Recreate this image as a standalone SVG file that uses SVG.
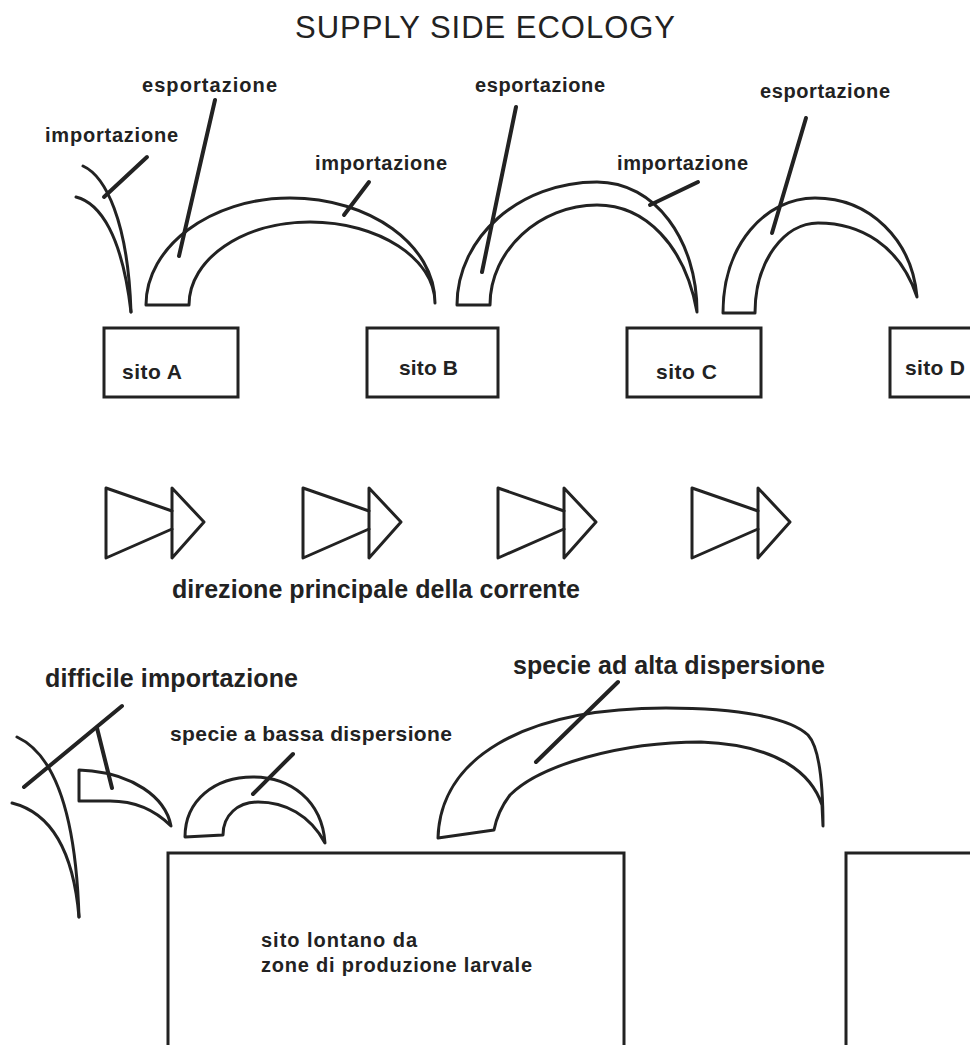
<svg xmlns="http://www.w3.org/2000/svg" width="970" height="1045" viewBox="0 0 970 1045">
<style>
.t{font-family:"Liberation Sans",Arial,sans-serif;font-weight:bold;fill:#222;font-size:20px}
.s{font-size:21px}
.big{font-size:25px}
.title{font-family:"Liberation Sans",Arial,sans-serif;font-weight:normal;fill:#222;font-size:31px}
.ln{fill:none;stroke:#222;stroke-width:3;stroke-linejoin:round;stroke-linecap:round}
.ld{fill:none;stroke:#222;stroke-width:4;stroke-linecap:round}
.box{fill:none;stroke:#222;stroke-width:3}
</style>
<defs>
<g id="arrow">
<polyline class="ln" points="66,23 0,0 0,70 66,41"/>
<polygon class="ln" points="66,0 98,34 66,70"/>
</g>
</defs>
<rect width="970" height="1045" fill="#fff"/>
<text class="title" x="295" y="38" textLength="380" lengthAdjust="spacing">SUPPLY SIDE ECOLOGY</text>

<g id="siteA"><rect class="box" x="104" y="328" width="134" height="69"/><text class="t s" x="122" y="379" textLength="60" lengthAdjust="spacing">sito A</text></g>
<g id="siteB"><rect class="box" x="367" y="328" width="131" height="69"/><text class="t s" x="399" y="375" textLength="59" lengthAdjust="spacing">sito B</text></g>
<g id="siteC"><rect class="box" x="627" y="328" width="134" height="69"/><text class="t s" x="656" y="379" textLength="61" lengthAdjust="spacing">sito C</text></g>
<g id="siteD"><rect class="box" x="890" y="328" width="100" height="69"/><text class="t s" x="905" y="375" textLength="60" lengthAdjust="spacing">sito D</text></g>

<g id="farSite"><rect class="box" x="168" y="853" width="456" height="220"/><text class="t" x="261" y="947" textLength="156" lengthAdjust="spacing">sito lontano da</text><text class="t" x="261" y="972" textLength="271" lengthAdjust="spacing">zone di produzione larvale</text></g>
<g id="rightSite"><rect class="box" x="846" y="853" width="150" height="220"/></g>

<g id="labels">
<text class="t" x="142" y="92" textLength="135" lengthAdjust="spacing">esportazione</text>
<text class="t" x="45" y="142" textLength="133" lengthAdjust="spacing">importazione</text>
<text class="t" x="315" y="170" textLength="132" lengthAdjust="spacing">importazione</text>
<text class="t" x="475" y="92" textLength="130" lengthAdjust="spacing">esportazione</text>
<text class="t" x="617" y="170" textLength="131" lengthAdjust="spacing">importazione</text>
<text class="t" x="760" y="98" textLength="130" lengthAdjust="spacing">esportazione</text>
<text class="t big" x="172" y="598" textLength="408" lengthAdjust="spacing">direzione principale della corrente</text>
<text class="t big" x="513" y="674" textLength="312" lengthAdjust="spacing">specie ad alta dispersione</text>
<text class="t big" x="45" y="687" textLength="253" lengthAdjust="spacing">difficile importazione</text>
<text class="t s" x="170" y="741" textLength="282" lengthAdjust="spacing">specie a bassa dispersione</text>
</g>

<g id="connectors">
<path class="ln" d="M83,166 C105,176 128,220 131,312"/>
<path class="ln" d="M76,197 C100,203 122,235 131,312"/>
<path class="ln" d="M146,305 C146,247 210,198 290,198 C370,198 435,245 435,303 C435,259 379,222 310,222 C243,222 189,259 189,305 Z"/>
<path class="ln" d="M457,305 C457,237 520,182 597,182 C655,182 697,240 697,312 C685,245 645,205 597,205 C540,205 490,250 490,305 Z"/>
<path class="ln" d="M723,313 C723,245 765,198 815,198 C870,198 912,240 917,297 C900,245 860,223 818,223 C785,223 755,260 755,313 Z"/>
<line class="ld" x1="147" y1="157" x2="104" y2="197"/>
<line class="ld" x1="215" y1="100" x2="179" y2="256"/>
<line class="ld" x1="369" y1="182" x2="344" y2="215"/>
<line class="ld" x1="516" y1="107" x2="482" y2="272"/>
<line class="ld" x1="698" y1="182" x2="650" y2="205"/>
<line class="ld" x1="806" y1="118" x2="772" y2="233"/>

<use href="#arrow" x="106" y="488"/>
<use href="#arrow" x="303" y="488"/>
<use href="#arrow" x="498" y="488"/>
<use href="#arrow" x="692" y="488"/>

<path class="ln" d="M17,737 C45,750 75,790 79,917"/>
<path class="ln" d="M12,803 C40,810 72,835 79,917"/>
<path class="ln" d="M79,770 L92,771 C130,775 165,795 171,826 C155,810 135,801 110,801 L79,801 Z"/>
<line class="ld" x1="122" y1="706" x2="24" y2="787"/>
<line class="ld" x1="97" y1="728" x2="112" y2="788"/>
<path class="ln" d="M185,837 C185,800 215,777 253,777 C290,777 322,800 325,843 C310,815 285,802 258,802 C238,802 223,815 223,835 Z"/>
<line class="ld" x1="293" y1="754" x2="253" y2="794"/>
<path class="ln" d="M438,838 C440,760 520,708 666,708 C740,708 790,718 808,735 C820,748 823,790 823,826 L822,805 C812,775 780,745 701,742 C620,742 540,765 510,795 C500,808 496,820 494,830 Z"/>
<line class="ld" x1="618" y1="682" x2="536" y2="762"/>
</g>
</svg>
